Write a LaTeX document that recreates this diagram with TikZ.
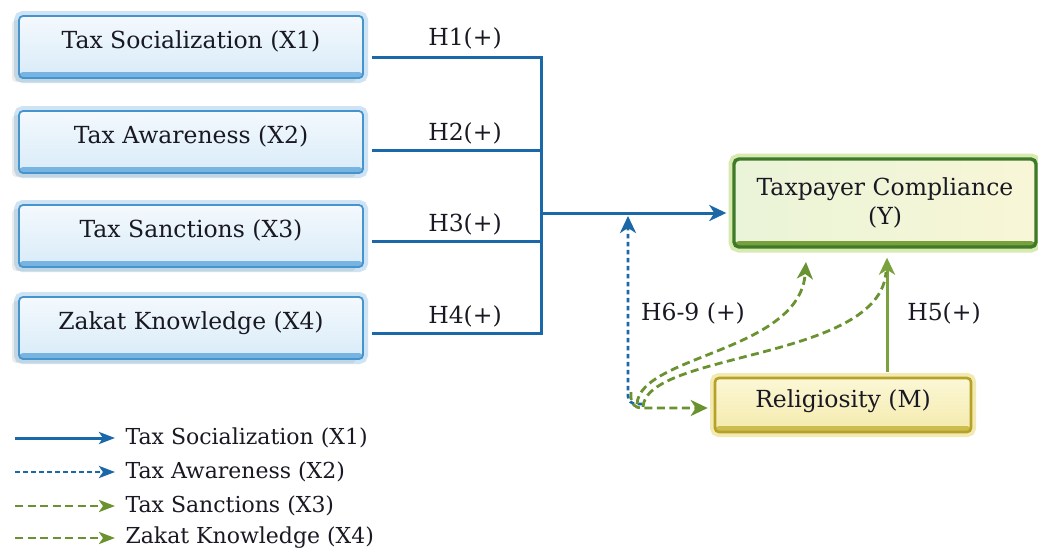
\documentclass[tikz,border=0pt]{standalone}
\usepackage{fontspec}
\setmainfont{DejaVu Serif}
\usetikzlibrary{arrows.meta,shadows,calc}
\definecolor{bl}{RGB}{26,104,168}
\definecolor{gr}{RGB}{106,146,48}
\definecolor{grl}{RGB}{122,162,60}
\definecolor{xborder}{RGB}{70,148,205}
\definecolor{xband}{RGB}{120,180,225}
\definecolor{xglow}{RGB}{206,228,245}
\definecolor{xtop}{RGB}{244,249,253}
\definecolor{xbot}{RGB}{216,235,248}
\definecolor{yborder}{RGB}{62,122,42}
\definecolor{yband}{RGB}{120,160,60}
\definecolor{yglow}{RGB}{216,234,176}
\definecolor{ytop}{RGB}{234,244,216}
\definecolor{ybot}{RGB}{248,246,214}
\definecolor{rborder}{RGB}{182,162,40}
\definecolor{rband}{RGB}{205,188,80}
\definecolor{rglow}{RGB}{242,234,178}
\definecolor{rtop}{RGB}{252,247,214}
\definecolor{rbot}{RGB}{244,234,172}
\definecolor{txt}{RGB}{25,25,35}
\newcommand{\bigf}{\fontsize{23.5}{30}\selectfont}
\newcommand{\legf}{\fontsize{22}{26}\selectfont}
\begin{document}
\begin{tikzpicture}[x=1pt,y=-1pt,
  xbox/.style={draw=xborder, line width=1.8pt, rounded corners=4pt,
    minimum width=344pt, minimum height=62pt, top color=xtop, bottom color=xbot,
    font=\bigf, text=txt, text height=18pt, text depth=15pt,
    preaction={draw=xglow, line width=10pt},
    drop shadow={shadow xshift=-7pt, shadow yshift=-4pt, opacity=0.15},
    path picture={\fill[xband] ([yshift=-1pt]path picture bounding box.south west) rectangle ([yshift=6pt]path picture bounding box.south east);}},
  ybox/.style={draw=yborder, line width=3.4pt, rounded corners=5pt,
    minimum width=302pt, minimum height=88pt, left color=ytop, right color=ybot,
    font=\bigf, text=txt, align=center,
    preaction={draw=yglow, line width=11pt},
    path picture={\fill[yband] ([yshift=-1pt]path picture bounding box.south west) rectangle ([yshift=6pt]path picture bounding box.south east);}},
  rbox/.style={draw=rborder, line width=2.6pt, rounded corners=4pt,
    minimum width=256pt, minimum height=54pt, top color=rtop, bottom color=rbot,
    font=\bigf, text=txt, text height=18pt, text depth=14pt,
    preaction={draw=rglow, line width=10pt},
    path picture={\fill[rband] ([yshift=-1pt]path picture bounding box.south west) rectangle ([yshift=6pt]path picture bounding box.south east);}},
  hlab/.style={font=\bigf, text=txt},
  bline/.style={draw=bl, line width=3pt},
  bdot/.style={draw=bl, line width=2.8pt, dash pattern=on 4.5pt off 3.5pt},
  gdash/.style={draw=gr, line width=2.8pt, dash pattern=on 8pt off 4.5pt},
  gline/.style={draw=grl, line width=3pt},
  tip/.style={-{Stealth[length=17pt,width=16pt,inset=5pt]}},
  ltip/.style={-{Stealth[length=16pt,width=12pt,inset=4pt]}},
  legtext/.style={anchor=west, font=\legf, text=txt}
]
\useasboundingbox (0,0) rectangle (1038,549);
\fill[white] (0,0) rectangle (1038,549);

% left boxes
\node[xbox] (x1) at (191,47) {Tax Socialization (X1)};
\node[xbox] (x2) at (191,142) {Tax Awareness (X2)};
\node[xbox] (x3) at (191,236) {Tax Sanctions (X3)};
\node[xbox] (x4) at (191,328) {Zakat Knowledge (X4)};

% junction coordinates
\coordinate (j1) at (541,57);
\coordinate (j2) at (541,150);
\coordinate (j3) at (541,241);
\coordinate (j4) at (541,333);
\coordinate (jm) at (541,213);

% target boxes
\node[ybox] (y) at (885,203) {Taxpayer Compliance\\[-1pt](Y)};
\node[rbox] (r) at (843,405) {Religiosity (M)};

% H1-H4 connectors
\draw[bline] ($(x1.east|-j1)+(8,0)$) -- (j1) -- (j4) -- ($(x4.east|-j4)+(8,0)$);
\draw[bline] ($(x2.east|-j2)+(8,0)$) -- (j2);
\draw[bline] ($(x3.east|-j3)+(8,0)$) -- (j3);
\draw[bline,tip] (jm) -- ($(y.west|-jm)+(-6,0)$);

\node[hlab] (h1) at (465,38) {H1(+)};
\node[hlab] (h2) at (465,133) {H2(+)};
\node[hlab] (h3) at (465,224) {H3(+)};
\node[hlab] (h4) at (465,316) {H4(+)};

% H5
\coordinate (c5) at (887,300);
\draw[gline,tip] ($(r.north-|c5)+(0,-5)$) -- ($(y.south-|c5)+(0,9)$);
\node[hlab] (h5) at (944,313) {H5(+)};

% moderation paths H6-9
\coordinate (bt) at (628,216);
\coordinate (m0) at (642,404);
\draw[bdot,tip,rounded corners=8pt] (m0) -| (bt);
\draw[gdash,tip,rounded corners=10pt] (631,392) |- ($(r.west)+(-6,3)$);
\draw[gdash,tip] (637,404) .. controls (640,355) and (800,352) .. (806,262);
\draw[gdash] (643,407) .. controls (646,352) and (880,360) .. (886,272);
\node[hlab] (h69) at (693,313) {H6-9 (+)};

% legend
\coordinate (l1) at (15,438); \coordinate (l1e) at (115,438);
\coordinate (l2) at (15,472); \coordinate (l2e) at (115,472);
\coordinate (l3) at (15,506); \coordinate (l3e) at (115,506);
\coordinate (l4) at (15,538); \coordinate (l4e) at (115,538);
\draw[bline,ltip] (l1) -- (l1e);
\draw[bdot,ltip] (l2) -- (l2e);
\draw[gdash,ltip] (l3) -- (l3e);
\draw[gdash,ltip] (l4) -- (l4e);
\node[legtext] (t1) at (122,438) {Tax Socialization (X1)};
\node[legtext] (t2) at (122,472) {Tax Awareness (X2)};
\node[legtext] (t3) at (122,506) {Tax Sanctions (X3)};
\node[legtext] (t4) at (122,538) {Zakat Knowledge (X4)};
\end{tikzpicture}
\end{document}
